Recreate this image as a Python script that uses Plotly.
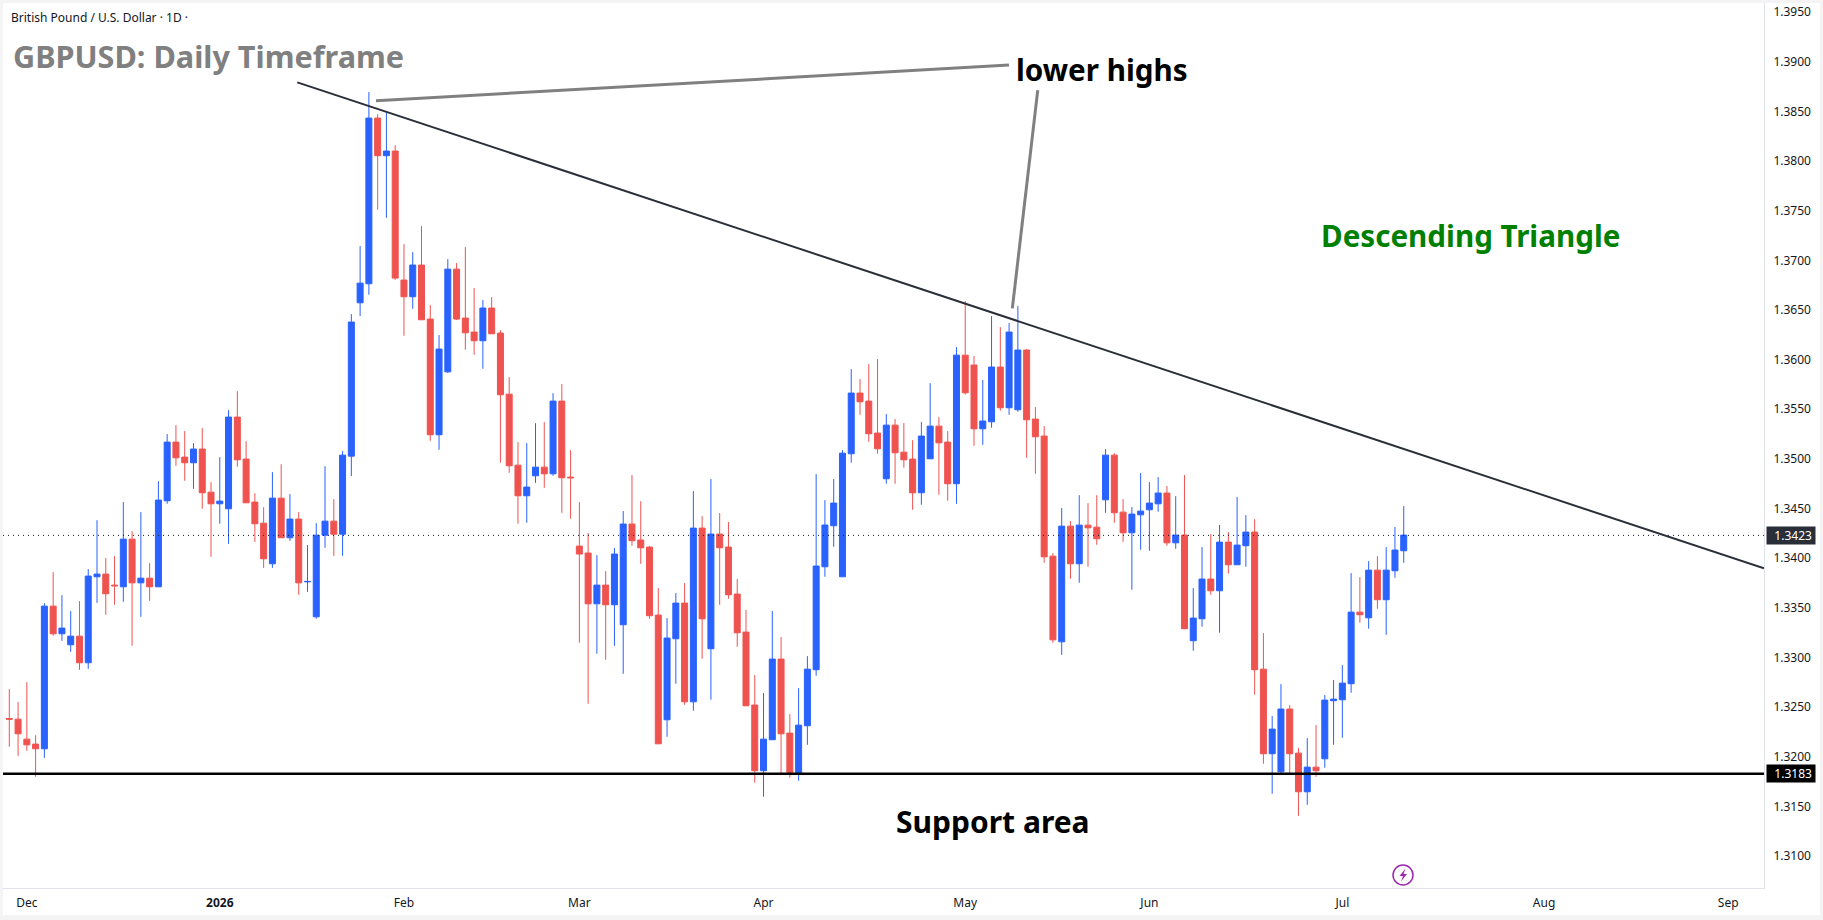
import plotly.graph_objects as go

# GBP/USD daily sessions, oldest first
opens = [
    1.32386, 1.32379, 1.32178, 1.32128, 1.32081, 1.33517, 1.33239, 1.33128, 1.33215, 1.32947,
    1.33813, 1.33840, 1.33729, 1.33712, 1.34192, 1.33752, 1.33799, 1.33712, 1.34578, 1.35169,
    1.35018, 1.34961, 1.35099, 1.34665, 1.34548, 1.34498, 1.35421, 1.34998, 1.34565, 1.34353,
    1.33944, 1.34605, 1.34206, 1.34394, 1.33762, 1.33410, 1.34232, 1.34373, 1.34242, 1.35028,
    1.36572, 1.36764, 1.38432, 1.38053, 1.38100, 1.36801, 1.36633, 1.36952, 1.36408, 1.35243,
    1.35877, 1.36911, 1.36418, 1.36277, 1.36190, 1.36519, 1.36267, 1.35652, 1.34937, 1.34629,
    1.34830, 1.34917, 1.34850, 1.35582, 1.34817, 1.34122, 1.34052, 1.33541, 1.33729, 1.33531,
    1.33330, 1.34344, 1.34183, 1.34112, 1.33427, 1.32373, 1.33189, 1.33548, 1.32554, 1.34303,
    1.33088, 1.34243, 1.34112, 1.33639, 1.33256, 1.32521, 1.31860, 1.32172, 1.32984, 1.32239,
    1.31829, 1.32313, 1.32877, 1.33914, 1.34327, 1.33813, 1.35052, 1.35663, 1.35582, 1.35260,
    1.34800, 1.35340, 1.35068, 1.34998, 1.34659, 1.35001, 1.35330, 1.35169, 1.34750, 1.36045,
    1.35945, 1.35303, 1.35374, 1.35925, 1.35515, 1.35495, 1.36096, 1.35401, 1.35230, 1.34021,
    1.33158, 1.34323, 1.33944, 1.34333, 1.34313, 1.34588, 1.35038, 1.34464, 1.34256, 1.34437,
    1.34488, 1.34548, 1.34656, 1.34155, 1.34233, 1.33169, 1.33390, 1.33790, 1.33672, 1.34162,
    1.33934, 1.34126, 1.34263, 1.32883, 1.32031, 1.31849, 1.32481, 1.32037, 1.31648, 1.31896,
    1.31980, 1.32565, 1.32575, 1.32736, 1.33457, 1.33400, 1.33880, 1.33582, 1.33874, 1.34075,
]
highs = [
    1.32682, 1.32551, 1.32752, 1.32218, 1.33548, 1.33860, 1.33628, 1.33467, 1.33568, 1.33890,
    1.34383, 1.34001, 1.34021, 1.34565, 1.34273, 1.34464, 1.33950, 1.34776, 1.35250, 1.35340,
    1.35280, 1.35159, 1.35310, 1.34766, 1.35018, 1.35491, 1.35683, 1.35179, 1.34655, 1.34514,
    1.34867, 1.34947, 1.34645, 1.34464, 1.34132, 1.34353, 1.34927, 1.34595, 1.35078, 1.36458,
    1.37143, 1.38694, 1.38472, 1.38492, 1.38160, 1.37163, 1.37082, 1.37344, 1.36549, 1.36247,
    1.37012, 1.36972, 1.37133, 1.36720, 1.36599, 1.36629, 1.36297, 1.35824, 1.35169, 1.35159,
    1.35360, 1.35370, 1.35662, 1.35753, 1.35088, 1.34565, 1.34253, 1.34032, 1.33870, 1.34102,
    1.34475, 1.34837, 1.34575, 1.34122, 1.33699, 1.33397, 1.33649, 1.33750, 1.34676, 1.34424,
    1.34797, 1.34455, 1.34364, 1.33790, 1.33478, 1.32823, 1.32642, 1.33468, 1.33206, 1.32430,
    1.32692, 1.33014, 1.34847, 1.34585, 1.34797, 1.35089, 1.35904, 1.35804, 1.35955, 1.36005,
    1.35451, 1.35401, 1.35361, 1.35189, 1.35371, 1.35763, 1.35421, 1.35280, 1.36126, 1.36589,
    1.36035, 1.35794, 1.36438, 1.36327, 1.36368, 1.36539, 1.36106, 1.35522, 1.35330, 1.34051,
    1.34505, 1.34374, 1.34635, 1.34555, 1.34635, 1.35099, 1.35058, 1.34595, 1.34515, 1.34857,
    1.34766, 1.34817, 1.34726, 1.34625, 1.34837, 1.33699, 1.34112, 1.34243, 1.34334, 1.34263,
    1.34616, 1.34434, 1.34394, 1.33246, 1.32410, 1.32732, 1.32521, 1.32088, 1.32189, 1.32319,
    1.32622, 1.32773, 1.32924, 1.33850, 1.33810, 1.33971, 1.34021, 1.34112, 1.34314, 1.34525,
]
lows = [
    1.32101, 1.32010, 1.32060, 1.31799, 1.31990, 1.33219, 1.33168, 1.33057, 1.32876, 1.32886,
    1.33551, 1.33430, 1.33531, 1.33561, 1.33118, 1.33410, 1.33571, 1.33712, 1.34548, 1.34931,
    1.34780, 1.34699, 1.34498, 1.34014, 1.34347, 1.34145, 1.34921, 1.34558, 1.34165, 1.33903,
    1.33903, 1.34206, 1.34175, 1.33632, 1.33662, 1.33390, 1.34105, 1.34024, 1.34024, 1.34827,
    1.36438, 1.36653, 1.37509, 1.37428, 1.36801, 1.36240, 1.36512, 1.36401, 1.35182, 1.35092,
    1.35864, 1.36398, 1.36099, 1.36049, 1.35908, 1.36260, 1.34961, 1.34860, 1.34347, 1.34357,
    1.34759, 1.34709, 1.34830, 1.34457, 1.34397, 1.33149, 1.32534, 1.33038, 1.32977, 1.33118,
    1.32836, 1.34126, 1.33944, 1.33390, 1.32131, 1.32202, 1.32736, 1.32524, 1.32464, 1.32987,
    1.32575, 1.33531, 1.33592, 1.33108, 1.32514, 1.31739, 1.31598, 1.32172, 1.31819, 1.31789,
    1.31759, 1.32121, 1.32816, 1.33813, 1.34115, 1.33813, 1.34961, 1.35444, 1.35173, 1.35052,
    1.34750, 1.34750, 1.34911, 1.34488, 1.34538, 1.35001, 1.34639, 1.34578, 1.34548, 1.35646,
    1.35132, 1.35142, 1.35314, 1.35485, 1.35444, 1.35475, 1.35011, 1.34850, 1.33954, 1.33148,
    1.33027, 1.33793, 1.33753, 1.33914, 1.34135, 1.34458, 1.34357, 1.34165, 1.33682, 1.34085,
    1.34075, 1.34468, 1.34125, 1.34095, 1.33290, 1.33068, 1.33310, 1.33632, 1.33249, 1.33844,
    1.33934, 1.33914, 1.32625, 1.31930, 1.31628, 1.31839, 1.31829, 1.31406, 1.31517, 1.31799,
    1.31890, 1.32121, 1.32192, 1.32645, 1.33350, 1.33290, 1.33491, 1.33229, 1.33803, 1.33954,
]
closes = [
    1.32379, 1.32232, 1.32121, 1.32081, 1.33517, 1.33239, 1.33296, 1.33215, 1.32947, 1.33820,
    1.33840, 1.33642, 1.33722, 1.34192, 1.33752, 1.33799, 1.33712, 1.34585, 1.35169, 1.35011,
    1.34961, 1.35099, 1.34659, 1.34548, 1.34575, 1.35421, 1.34991, 1.34558, 1.34347, 1.33994,
    1.34605, 1.34206, 1.34394, 1.33752, 1.33766, 1.34232, 1.34373, 1.34242, 1.35038, 1.36378,
    1.36770, 1.38432, 1.38053, 1.38100, 1.36821, 1.36633, 1.36952, 1.36401, 1.35243, 1.36106,
    1.36911, 1.36408, 1.36270, 1.36190, 1.36519, 1.36260, 1.35646, 1.34931, 1.34629, 1.34716,
    1.34917, 1.34850, 1.35582, 1.34810, 1.34810, 1.34042, 1.33541, 1.33729, 1.33531, 1.34042,
    1.34344, 1.34176, 1.34105, 1.33421, 1.32131, 1.33196, 1.33548, 1.32554, 1.34303, 1.33390,
    1.34243, 1.34105, 1.33632, 1.33249, 1.32514, 1.31860, 1.32178, 1.32984, 1.32232, 1.31839,
    1.32319, 1.32883, 1.33921, 1.34334, 1.34555, 1.35058, 1.35663, 1.35575, 1.35253, 1.35102,
    1.35340, 1.35062, 1.34991, 1.34659, 1.35230, 1.35330, 1.35162, 1.34750, 1.36045, 1.35666,
    1.35303, 1.35381, 1.35925, 1.35515, 1.36277, 1.36096, 1.35394, 1.35223, 1.34014, 1.33178,
    1.34323, 1.33944, 1.34333, 1.34306, 1.34196, 1.35038, 1.34458, 1.34256, 1.34444, 1.34474,
    1.34555, 1.34656, 1.34155, 1.34233, 1.33290, 1.33397, 1.33790, 1.33672, 1.34162, 1.33934,
    1.34132, 1.34263, 1.32877, 1.32031, 1.32279, 1.32481, 1.32031, 1.31648, 1.31896, 1.31860,
    1.32571, 1.32581, 1.32742, 1.33457, 1.33431, 1.33880, 1.33582, 1.33880, 1.34082, 1.34233,
]

sessions = list(range(len(opens)))

# Axis labels
month_positions = [2, 24, 45, 65, 86, 109, 130, 152, 175, 196]
month_labels = ["Dec", "<b>2026</b>", "Feb", "Mar", "Apr", "May", "Jun", "Jul", "Aug", "Sep"]

# Key levels and drawing anchors as (session, price)
last_price = 1.3423
support_price = 1.3183
trendline = [(32.84, 1.38792), (200.08, 1.33898)]
callout_first_high = [(41.81, 1.38606), (113.99, 1.38966)]
callout_second_high = [(117.27, 1.38714), (114.37, 1.36516)]

WIDTH, HEIGHT = 1823, 920
LEFT, RIGHT, TOP, BOTTOM = 3, 1764, 3, 888
BLUE, RED = "#2962ff", "#ef5350"
TEXT_FONT = "Noto Sans"


def paper_x(px):
    return (px - LEFT) / (RIGHT - LEFT)


def paper_y(px):
    return (BOTTOM - px) / (BOTTOM - TOP)


def note(text, px, py, size, color, weight=700):
    return dict(
        text=text, xref="paper", yref="paper", x=paper_x(px), y=paper_y(py),
        xanchor="left", yanchor="middle", showarrow=False,
        font=dict(family=TEXT_FONT, size=size, color=color, weight=weight),
    )


def price_badge(price, color):
    return dict(
        text=f"{price:.4f}&nbsp;", xref="paper", yref="y", x=paper_x(1766), y=price,
        xanchor="left", yanchor="middle", showarrow=False, width=48, height=17,
        bgcolor=color, borderpad=0, align="right",
        font=dict(family=TEXT_FONT, size=12, color="#ffffff"),
    )


def segment(points, color, width, dash="solid"):
    (x0, y0), (x1, y1) = points
    return dict(type="line", xref="x", yref="y", x0=x0, y0=y0, x1=x1, y1=y1,
                line=dict(color=color, width=width, dash=dash), layer="above")


def bolt_path():
    # Lightning glyph inside the round marker under the last candle
    pts = [(1405.5, 868.5), (1399.5, 876), (1403, 876), (1401, 881.5), (1407, 874), (1403.5, 874)]
    coords = [f"{paper_x(x):.5f},{paper_y(y):.5f}" for x, y in pts]
    return "M" + " L".join(coords) + " Z"


fig = go.Figure(
    go.Candlestick(
        x=sessions, open=opens, high=highs, low=lows, close=closes,
        increasing=dict(line=dict(color=BLUE, width=1), fillcolor=BLUE),
        decreasing=dict(line=dict(color=RED, width=1), fillcolor=RED),
        whiskerwidth=0, hoverinfo="skip", showlegend=False,
    )
)

shapes = [
    # White chart panel over the grey page edge
    dict(type="rect", xref="paper", yref="paper", x0=paper_x(3), x1=paper_x(1820),
         y0=paper_y(3), y1=paper_y(915), fillcolor="#ffffff", line=dict(width=0), layer="below"),
    dict(type="line", xref="paper", yref="y", x0=0, x1=1, y0=last_price, y1=last_price,
         line=dict(color="#131722", width=1, dash="1px,4px"), layer="above"),
    dict(type="line", xref="paper", yref="y", x0=0, x1=1, y0=support_price, y1=support_price,
         line=dict(color="#000000", width=2.5), layer="above"),
    segment(trendline, "#2a2e39", 2),
    segment(callout_first_high, "#808080", 3),
    segment(callout_second_high, "#808080", 3),
    dict(type="circle", xref="paper", yref="paper",
         x0=paper_x(1393), x1=paper_x(1413), y0=paper_y(865), y1=paper_y(885),
         line=dict(color="#9c27b0", width=1.5), fillcolor="#ffffff", layer="above"),
    dict(type="path", xref="paper", yref="paper", path=bolt_path(),
         fillcolor="#9c27b0", line=dict(width=0), layer="above"),
]

annotations = [
    note("British Pound / U.S. Dollar · 1D ·", 9, 17.5, 12, "#131722", 400),
    note("GBPUSD: Daily Timeframe", 11, 56, 30.6, "#808080"),
    note("lower highs", 1014, 70, 29.6, "#000000"),
    note("Descending Triangle", 1319, 235, 29.6, "#008000"),
    note("Support area", 894, 821, 30, "#000000"),
    price_badge(last_price, "#2a2e39"),
    price_badge(support_price, "#000000"),
]

fig.update_layout(
    width=WIDTH, height=HEIGHT,
    margin=dict(l=LEFT, r=WIDTH - RIGHT, t=TOP, b=HEIGHT - BOTTOM, pad=0),
    paper_bgcolor="#f4f4f4", plot_bgcolor="#ffffff",
    showlegend=False, dragmode=False,
    boxgap=0.316, boxgroupgap=0,
    shapes=shapes, annotations=annotations,
    xaxis=dict(
        range=[-0.72, 200.08], rangeslider=dict(visible=False),
        tickmode="array", tickvals=month_positions, ticktext=month_labels,
        showgrid=False, zeroline=False, showline=True, linecolor="#e0e3eb", linewidth=1,
        ticks="", ticklabelstandoff=4,
        tickfont=dict(family=TEXT_FONT, size=12, color="#131722"),
    ),
    yaxis=dict(
        side="right", range=[1.30679, 1.39591], tick0=1.31, dtick=0.005, tickformat=".4f",
        showgrid=False, zeroline=False, showline=True, linecolor="#e0e3eb", linewidth=1,
        ticks="", ticklabelstandoff=6,
        tickfont=dict(family=TEXT_FONT, size=12, color="#131722"),
    ),
)

fig.write_html("out.html", config=dict(displayModeBar=False))
